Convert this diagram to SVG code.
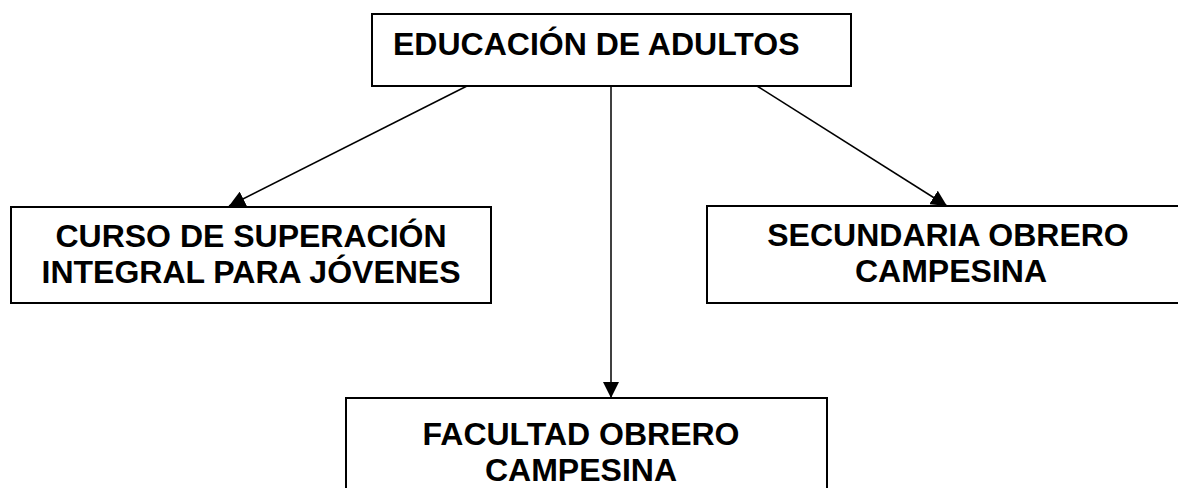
<svg xmlns="http://www.w3.org/2000/svg" width="1178" height="488" viewBox="0 0 1178 488">
  <style>
    .box { fill: #ffffff; stroke: #000000; stroke-width: 2; }
    .lbl { font-family: "Liberation Sans", Arial, sans-serif; font-weight: bold; font-size: 32px; fill: #000000; }
    .mid { text-anchor: middle; }
    .edge { stroke: #000000; stroke-width: 1.5; fill: none; marker-end: url(#arrow); }
  </style>
  <defs>
    <marker id="arrow" markerUnits="userSpaceOnUse" markerWidth="16" markerHeight="16" viewBox="0 0 16 16" refX="16" refY="8" orient="auto">
      <path d="M0,0 L16,8 L0,16 Z" fill="#000000"/>
    </marker>
  </defs>
  <rect width="1178" height="488" fill="#ffffff"/>
  <g id="connectors">
    <line class="edge" x1="467" y1="86" x2="229" y2="206"/>
    <line class="edge" x1="611" y1="86" x2="611" y2="398"/>
    <line class="edge" x1="757" y1="86" x2="947" y2="206"/>
  </g>
  <g id="node-educacion">
    <rect class="box" x="372" y="14" width="479" height="72"/>
    <text class="lbl" x="393" y="55">EDUCACIÓN DE ADULTOS</text>
  </g>
  <g id="node-curso">
    <rect class="box" x="11" y="207" width="480" height="96"/>
    <text class="lbl mid" x="251" y="247">CURSO DE SUPERACIÓN</text>
    <text class="lbl mid" x="251" y="283">INTEGRAL PARA JÓVENES</text>
  </g>
  <g id="node-secundaria">
    <rect class="box" x="707" y="206" width="483" height="97"/>
    <text class="lbl mid" x="948" y="246">SECUNDARIA OBRERO</text>
    <text class="lbl mid" x="951" y="282">CAMPESINA</text>
  </g>
  <g id="node-facultad">
    <rect class="box" x="346" y="398" width="481" height="110"/>
    <text class="lbl mid" x="581" y="445">FACULTAD OBRERO</text>
    <text class="lbl mid" x="581" y="481">CAMPESINA</text>
  </g>
</svg>
